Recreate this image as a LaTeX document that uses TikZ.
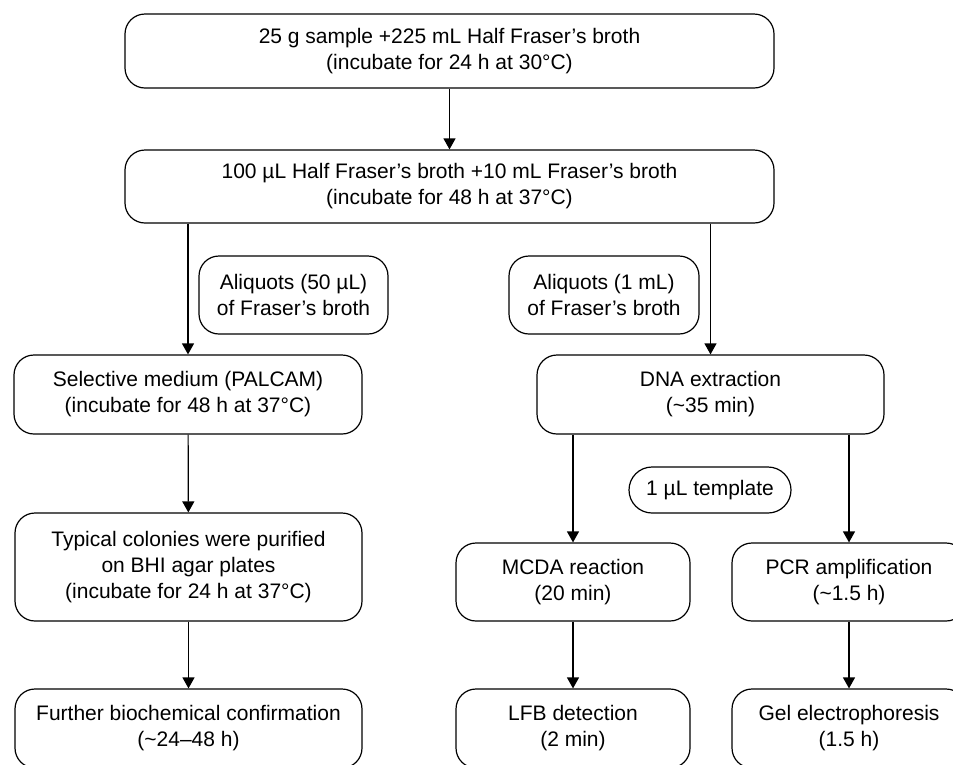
\documentclass[tikz,border=0pt]{standalone}
\usepackage{fontspec}
\setmainfont{Liberation Sans}
\usetikzlibrary{arrows.meta}
\tikzset{
  box/.style={draw=black, line width=1.2pt, rounded corners=20pt, align=center,
    inner sep=0pt, font=\fontsize{21pt}{26pt}\selectfont},
  pill/.style={box, rounded corners=23pt},
  arr/.style={line width=1.2pt, -{Triangle[width=12pt,length=11pt]}}
}
\begin{document}
\begin{tikzpicture}[x=1pt,y=-1pt]
\useasboundingbox (0,0) rectangle (953,764);
\clip (0,0) rectangle (953,764);
\fill[white] (0,0) rectangle (953,764);
\node[box, minimum width=649pt, minimum height=74pt] (top) at (449.5,51) {25 g sample +225 mL Half Fraser’s broth\\(incubate for 24 h at 30°C)};
\node[box, minimum width=649pt, minimum height=73pt] (sec) at (449.5,186.5) {100 µL Half Fraser’s broth +10 mL Fraser’s broth\\(incubate for 48 h at 37°C)};
\node[box, minimum width=189pt, minimum height=78pt] (al50) at (293.5,295) {Aliquots (50 µL)\\of Fraser’s broth};
\node[box, minimum width=190pt, minimum height=78pt] (al1) at (604,295) {Aliquots (1 mL)\\of Fraser’s broth};
\node[box, minimum width=348pt, minimum height=79pt] (sel) at (188,394.5) {Selective medium (PALCAM)\\(incubate for 48 h at 37°C)};
\node[box, minimum width=347pt, minimum height=79pt] (dna) at (710.5,394.5) {DNA extraction\\(\textasciitilde35 min)};
\node[pill, minimum width=162pt, minimum height=46pt] (tmpl) at (710,490) {1 µL template};
\node[box, minimum width=347pt, minimum height=108pt] (typ) at (188.5,567) {Typical colonies were purified\\on BHI agar plates\\(incubate for 24 h at 37°C)};
\node[box, minimum width=234pt, minimum height=78pt] (mcda) at (573,582) {MCDA reaction\\(20 min)};
\node[box, minimum width=234pt, minimum height=78pt] (pcr) at (849,582) {PCR amplification\\(\textasciitilde1.5 h)};
\node[box, minimum width=347pt, minimum height=79pt] (fur) at (188.5,728.5) {Further biochemical confirmation\\(\textasciitilde24–48 h)};
\node[box, minimum width=234pt, minimum height=79pt] (lfb) at (573,728.5) {LFB detection\\(2 min)};
\node[box, minimum width=234pt, minimum height=79pt] (gel) at (849,728.5) {Gel electrophoresis\\(1.5 h)};
\draw[arr] (top) -- (sec);
\draw[arr] (sec.south -| sel) -- (sel);
\draw[arr] (sec.south -| dna) -- (dna);
\draw[arr] (sel) -- (typ);
\draw[arr] (typ) -- (fur);
\draw[arr] (dna.south -| mcda) -- (mcda);
\draw[arr] (dna.south -| pcr) -- (pcr);
\draw[arr] (mcda) -- (lfb);
\draw[arr] (pcr) -- (gel);
\end{tikzpicture}
\end{document}
